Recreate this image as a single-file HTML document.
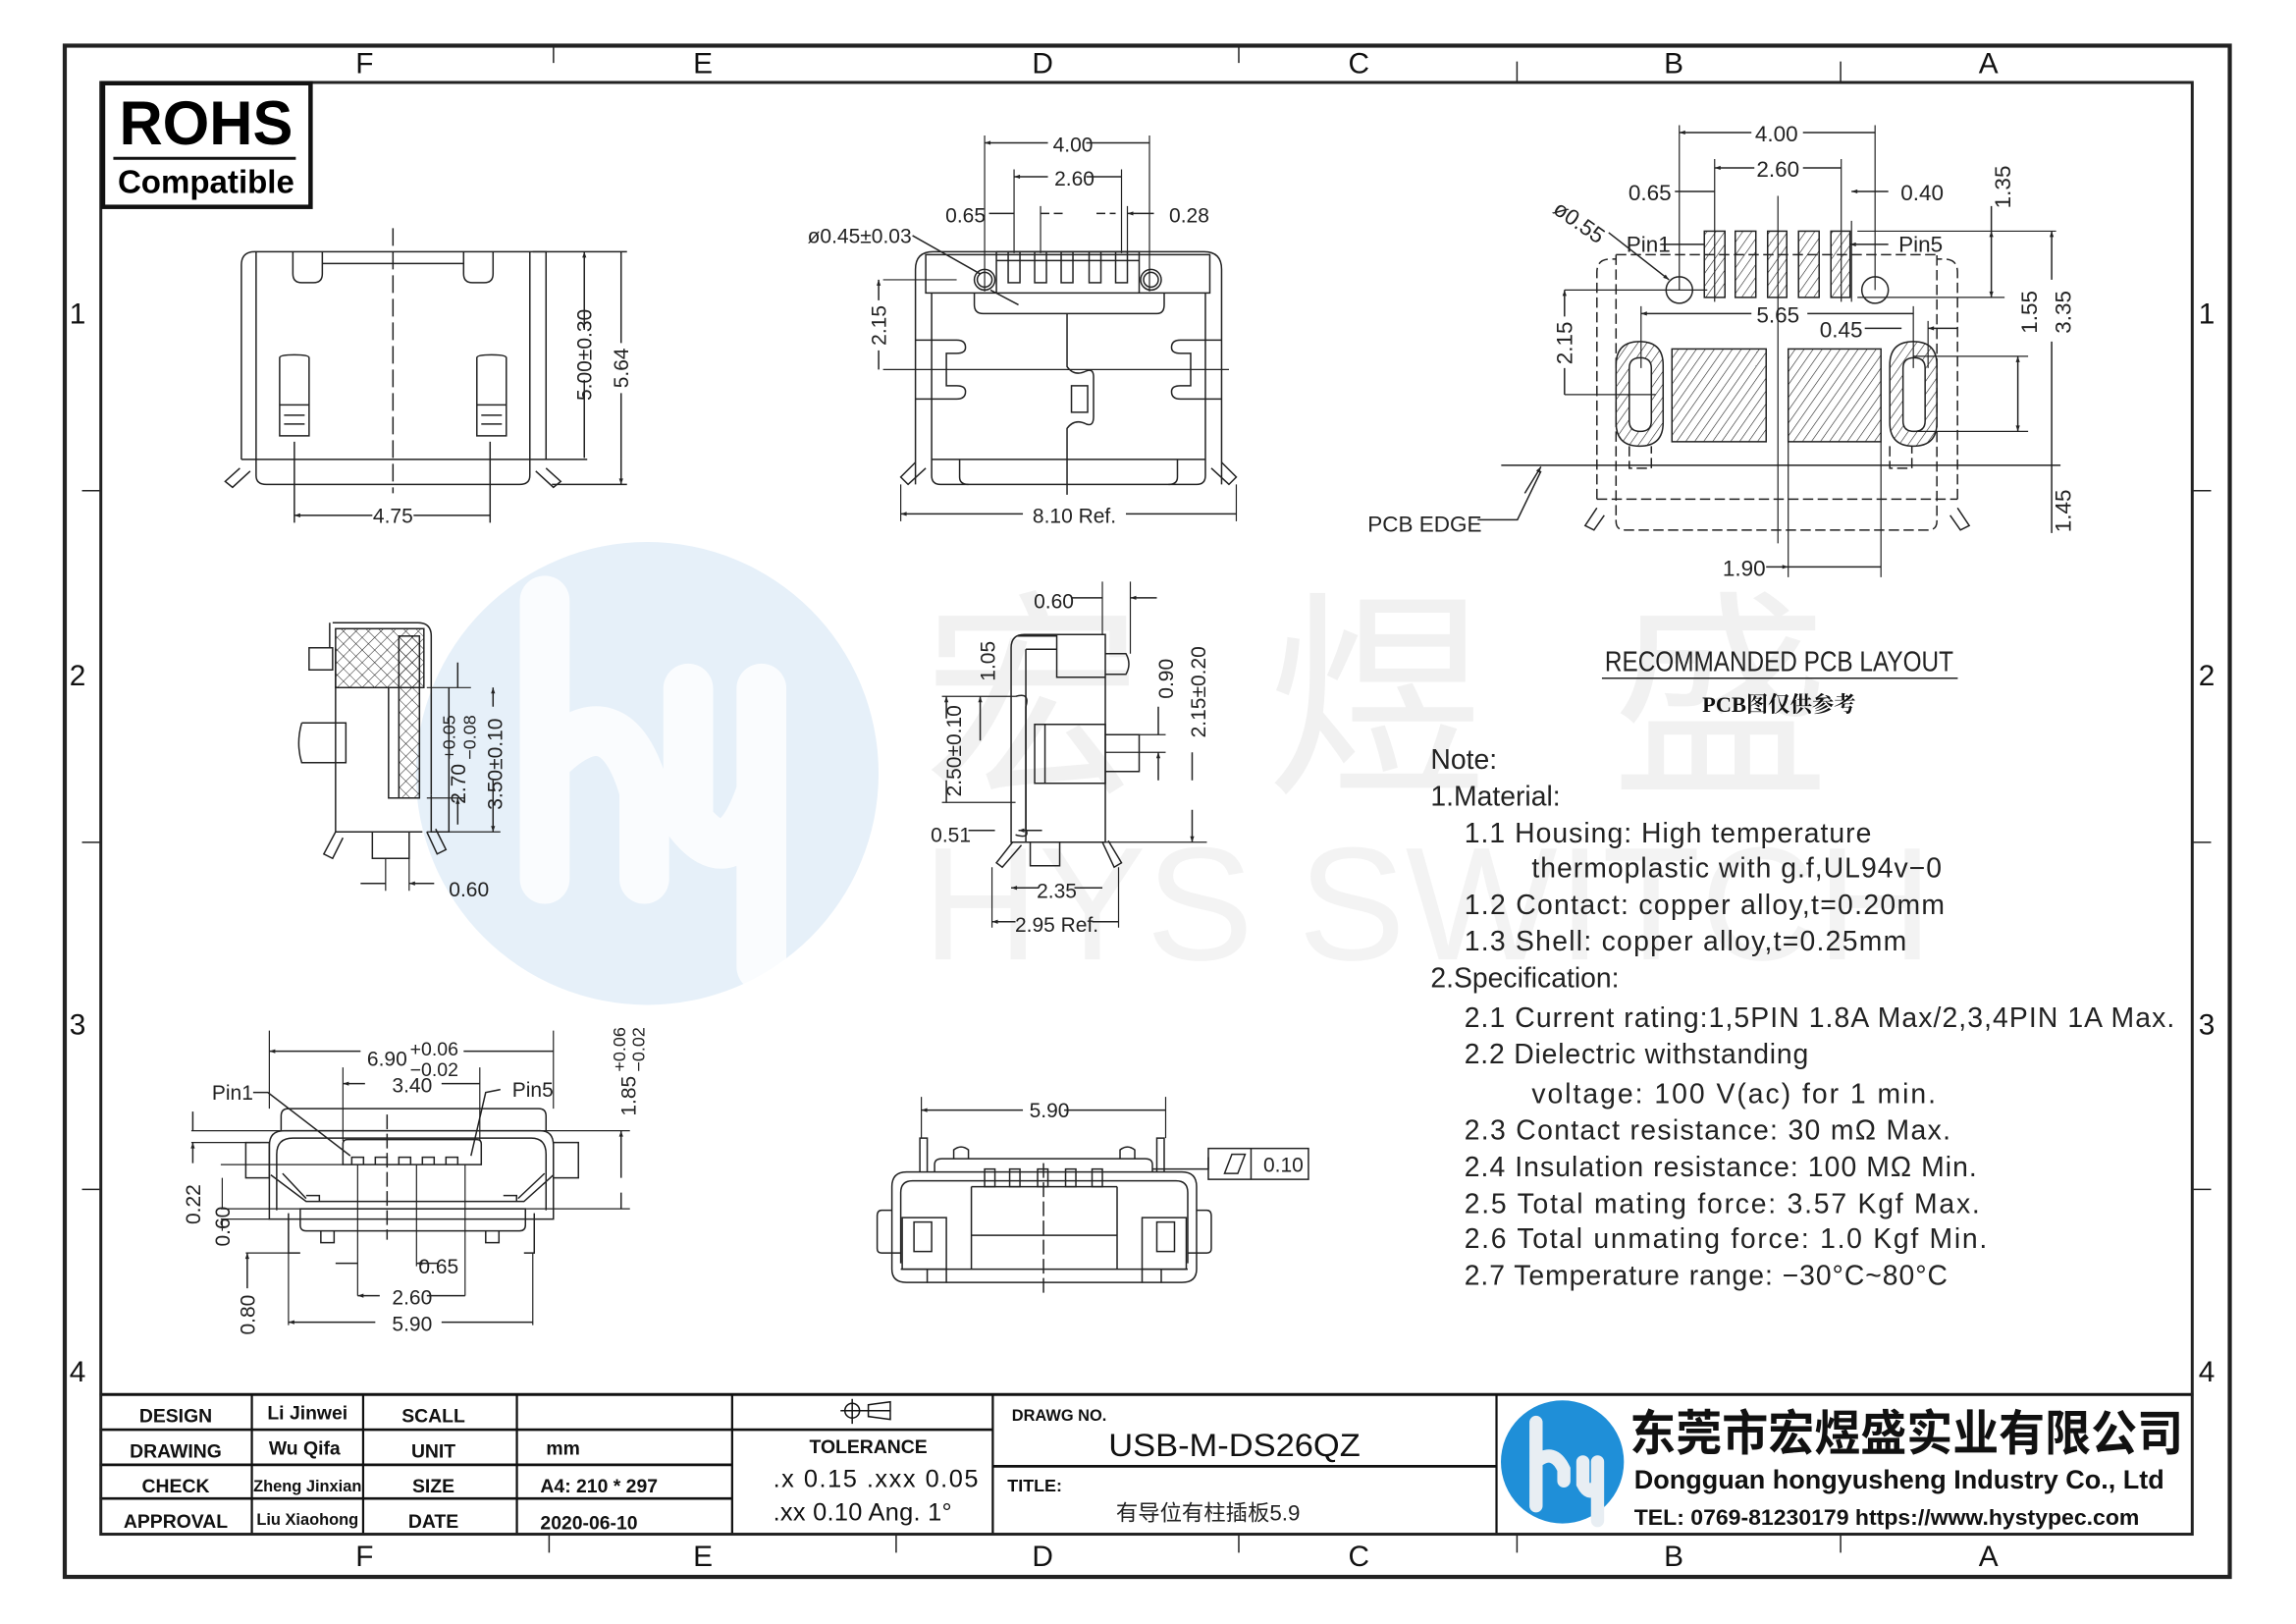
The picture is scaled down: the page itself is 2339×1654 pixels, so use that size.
<!DOCTYPE html>
<html><head><meta charset="utf-8"><style>html,body{margin:0;padding:0;background:#fff}svg{display:block}</style></head>
<body>
<svg xmlns="http://www.w3.org/2000/svg" width="2339" height="1654" viewBox="0 0 1560 1103" preserveAspectRatio="none" font-family="'Liberation Sans','Noto Sans CJK SC',sans-serif">
<defs>
<marker id="a" viewBox="0 0 10 10" refX="10" refY="5" markerWidth="10" markerHeight="4" markerUnits="userSpaceOnUse" orient="auto-start-reverse"><path d="M0,1.5 L10,5 L0,8.5z" fill="#222"/></marker>
<pattern id="h" width="5" height="5" patternUnits="userSpaceOnUse" patternTransform="rotate(35)"><line x1="0" y1="0" x2="0" y2="5" stroke="#222" stroke-width="0.8"/></pattern>
<pattern id="x" width="6" height="6" patternUnits="userSpaceOnUse" patternTransform="rotate(45)"><path d="M0,0V6M0,0H6" stroke="#222" stroke-width="0.7" fill="none"/></pattern>
</defs>
<rect width="1560" height="1103" fill="#fff"/>
<g transform="scale(0.9949)">
<circle cx="442" cy="528" r="158" fill="#e6f0f9"/>
<path d="M372,410 V600 M372,520 Q420,470 440,540 V600 M470,470 V560 Q500,600 520,540 V470 M520,540 V660" stroke="#fff" stroke-width="34" fill="none" stroke-linecap="round" opacity="0.8"/>
<text x="630" y="530" font-size="150" fill="#f1f1f1" font-family="'Noto Sans CJK SC',sans-serif" textLength="620">宏煜盛</text>
<text x="630" y="655" font-size="110" fill="#f3f3f3" textLength="690">HYS SWITCH</text>
<g fill="none" stroke="#222">
<path d="M378,31V43 M846,31V43 M1036,42V56 M1257,42V56 M375,1048V1060 M612,1048V1060 M846,1048V1060 M1036,1048V1060 M1257,1048V1060 M56,335H68 M56,575H68 M56,812H68 M1498,335H1510 M1498,575H1510 M1498,812H1510" stroke-width="1"/>
</g>
<g font-size="20" fill="#111" text-anchor="middle">
<text x="249" y="50">F</text><text x="480" y="50">E</text><text x="712" y="50">D</text><text x="928" y="50">C</text><text x="1143" y="50">B</text><text x="1358" y="50">A</text>
<text x="249" y="1069">F</text><text x="480" y="1069">E</text><text x="712" y="1069">D</text><text x="928" y="1069">C</text><text x="1143" y="1069">B</text><text x="1358" y="1069">A</text>
<text x="53" y="221">1</text><text x="53" y="468">2</text><text x="53" y="706">3</text><text x="53" y="943">4</text>
<text x="1507" y="221">1</text><text x="1507" y="468">2</text><text x="1507" y="706">3</text><text x="1507" y="943">4</text>
</g>
<text x="1215" y="458" font-size="19" fill="#222" text-anchor="middle" textLength="238" lengthAdjust="spacingAndGlyphs">RECOMMANDED PCB LAYOUT</text>
<line x1="1094" y1="463" x2="1337" y2="463" stroke="#222" stroke-width="1"/>
<text x="1215" y="486" font-size="15" font-weight="bold" fill="#111" text-anchor="middle" font-family="'Liberation Serif','Noto Serif CJK SC',serif">PCB图仅供参考</text>
<g font-size="19" fill="#222">
<text x="977" y="525">Note:</text>
<text x="977" y="550">1.Material:</text>
<text x="1000" y="575" textLength="278" lengthAdjust="spacing">1.1  Housing:  High  temperature</text>
<text x="1046" y="599" textLength="280" lengthAdjust="spacing">thermoplastic  with  g.f,UL94v−0</text>
<text x="1000" y="624" textLength="328" lengthAdjust="spacing">1.2  Contact:  copper  alloy,t=0.20mm</text>
<text x="1000" y="649" textLength="302" lengthAdjust="spacing">1.3  Shell:  copper  alloy,t=0.25mm</text>
<text x="977" y="674">2.Specification:</text>
<text x="1000" y="701" textLength="485" lengthAdjust="spacing">2.1  Current  rating:1,5PIN  1.8A  Max/2,3,4PIN  1A  Max.</text>
<text x="1000" y="726" textLength="235" lengthAdjust="spacing">2.2  Dielectric  withstanding</text>
<text x="1046" y="753" textLength="276" lengthAdjust="spacing">voltage:  100  V(ac)  for  1  min.</text>
<text x="1000" y="778" textLength="332" lengthAdjust="spacing">2.3  Contact  resistance:  30  mΩ  Max.</text>
<text x="1000" y="803" textLength="350" lengthAdjust="spacing">2.4  Insulation  resistance:  100  MΩ  Min.</text>
<text x="1000" y="828" textLength="352" lengthAdjust="spacing">2.5  Total  mating  force:  3.57  Kgf  Max.</text>
<text x="1000" y="852" textLength="357" lengthAdjust="spacing">2.6  Total  unmating  force:  1.0  Kgf  Min.</text>
<text x="1000" y="877" textLength="330" lengthAdjust="spacing">2.7  Temperature  range:  −30°C~80°C</text>
</g>
<g fill="none" stroke="#111">
<line x1="68" y1="952" x2="1498" y2="952" stroke-width="2"/>
<path d="M68,976 H500 M68,1000 H500 M68,1023 H500 M500,976 H678 M678,1001 H1022" stroke-width="1.8"/>
<path d="M172,952 V1048 M248,952 V1048 M353,952 V1048 M500,952 V1048 M678,952 V1048 M1022,952 V1048" stroke-width="1.5"/>
</g>
<g font-size="13" font-weight="bold" fill="#111" text-anchor="middle">
<text x="120" y="971">DESIGN</text><text x="120" y="995">DRAWING</text><text x="120" y="1019">CHECK</text><text x="120" y="1043">APPROVAL</text>
<text x="210" y="969">Li Jinwei</text><text x="208" y="993">Wu Qifa</text><text x="210" y="1018" font-size="11">Zheng Jinxian</text><text x="210" y="1041" font-size="11">Liu Xiaohong</text>
<text x="296" y="971">SCALL</text><text x="296" y="995">UNIT</text><text x="296" y="1019">SIZE</text><text x="296" y="1043">DATE</text>
</g>
<g font-size="13" font-weight="bold" fill="#111">
<text x="373" y="993">mm</text><text x="369" y="1019">A4: 210 * 297</text><text x="369" y="1044">2020-06-10</text>
<text x="593" y="992" text-anchor="middle">TOLERANCE</text>
<text x="691" y="970" font-size="11">DRAWG NO.</text>
<text x="688" y="1018" font-size="12">TITLE:</text>
</g>
<g fill="none" stroke="#111" stroke-width="1"><circle cx="582" cy="963" r="5"/><path d="M574,963 H608 M582,955 V972 M593,959 L608,957 V969 L593,967 Z"/></g>
<g font-size="17" fill="#111">
<text x="528" y="1015" textLength="140" lengthAdjust="spacing">.x  0.15  .xxx  0.05</text>
<text x="528" y="1038" textLength="122" lengthAdjust="spacing">.xx 0.10  Ang.  1°</text>
</g>
<text x="843" y="994" font-size="22" fill="#111" text-anchor="middle" textLength="172" lengthAdjust="spacingAndGlyphs">USB-M-DS26QZ</text>
<text x="825" y="1038" font-size="15" fill="#222" text-anchor="middle">有导位有柱插板5.9</text>
<circle cx="1067" cy="998" r="42" fill="#1f8fd8"/>
<path d="M1049,971 V1028 M1049,998 Q1061,988 1068,1003 V1011 M1081,998 V1013 Q1086,1023 1091,1013 V998 M1091,1013 V1038" stroke="#e8eef3" stroke-width="9" fill="none" stroke-linecap="round"/>
<text x="1113" y="990" font-size="33" font-weight="bold" fill="#111" font-family="'Noto Sans CJK SC',sans-serif" textLength="378" lengthAdjust="spacingAndGlyphs">东莞市宏煜盛实业有限公司</text>
<text x="1116" y="1016" font-size="18" font-weight="bold" fill="#111" textLength="362" lengthAdjust="spacingAndGlyphs">Dongguan hongyusheng Industry Co., Ltd</text>
<text x="1116" y="1041" font-size="15" font-weight="bold" fill="#111" textLength="345" lengthAdjust="spacingAndGlyphs">TEL: 0769-81230179   https://www.hystypec.com</text>
</g>

<g fill="none" stroke="#222">
<rect x="44" y="31" width="1471" height="1040" stroke-width="2.8"/>
<rect x="68.5" y="56" width="1421" height="986" stroke-width="2"/>
</g>
<rect x="70" y="56.5" width="141" height="84" fill="none" stroke="#111" stroke-width="3"/>
<text x="140" y="98" font-size="42" font-weight="bold" text-anchor="middle" textLength="118" lengthAdjust="spacingAndGlyphs">ROHS</text>
<line x1="77" y1="107.5" x2="201" y2="107.5" stroke="#111" stroke-width="2"/>
<text x="140" y="131" font-size="22" font-weight="bold" text-anchor="middle" textLength="120" lengthAdjust="spacingAndGlyphs">Compatible</text>

<g fill="none" stroke="#222" stroke-width="1">
<path d="M164,312 V180 Q164,171 173,171 H371 V312" />
<path d="M174,171 V323 Q174,329 181,329 H353 Q360,329 360,323 V171"/>
<path d="M199,171 V186 Q199,192 205,192 H213 Q219,192 219,186 V179 H315 V186 Q315,192 321,192 H329 Q335,192 335,186 V171 M219,179 V171 M315,179 V171"/>
<path d="M190,243 V296 H210 V243 Q210,241 200,241 Q190,241 190,243 M190,275 H210 M193,282 H207 M193,288 H207 M324,243 V296 H344 V243 Q344,241 334,241 Q324,241 324,243 M324,275 H344 M327,282 H341 M327,288 H341"/>
<path d="M164,312 H399 M163,318 L153,327 L158,331 L170,320 M371,318 L381,327 L376,331 L364,320"/>
<path d="M267,155 V335" stroke-dasharray="12,4"/>
<path d="M200,300 V355 M333,300 V355 M362,171 H426 M375,329 H426"/>
<path d="M397,171 V224 M397,258 V311 M422,171 V233 M422,267 V329" marker-start="url(#a)" marker-end="url(#a)"/>
<path d="M200,350 H253 M281,350 H333" marker-start="url(#a)"/>
</g>
<g font-size="14" fill="#222" text-anchor="middle">
<text x="267" y="355">4.75</text>
<text transform="translate(402,241) rotate(-90)">5.00±0.30</text>
<text transform="translate(427,250) rotate(-90)">5.64</text>
</g>

<g fill="none" stroke="#222" stroke-width="1">
<path d="M622,329 V183 Q622,171 634,171 H818 Q830,171 830,183 V329"/>
<path d="M629,173 H822 V199 H629 Z M633,199 V323 Q633,329 639,329 H813 Q819,329 819,323 V199"/>
<path d="M677,171 H774 V199 M677,171 V199 M677,177 H774"/>
<path d="M662,199 V207 Q662,213 668,213 H786 Q791,213 791,207 V199"/>
<rect x="685" y="171" width="8" height="21"/><rect x="703" y="171" width="8" height="21"/><rect x="721" y="171" width="8" height="21"/><rect x="740" y="171" width="8" height="21"/><rect x="758" y="171" width="8" height="21"/>
<circle cx="669" cy="190" r="7"/><circle cx="669" cy="190" r="5"/><circle cx="782" cy="190" r="7"/><circle cx="782" cy="190" r="5"/>
<path d="M622,231 H650 Q656,231 656,236 Q656,240 650,240 H643 V262 H650 Q656,262 656,266 Q656,271 650,271 H622 M830,231 H802 Q796,231 796,236 Q796,240 802,240 H809 V262 H802 Q796,262 796,266 Q796,271 802,271 H830"/>
<path d="M725,213 V249 Q730,256 738,252 Q743,250 743,256 V283 Q743,290 738,288 Q730,284 725,291 V336"/>
<rect x="728" y="262" width="11" height="18"/>
<path d="M633,312 H819 M652,312 V324 Q652,329 658,329 M800,312 V324 Q800,329 794,329"/>
<path d="M622,314 L612,324 L617,329 L629,318 M830,314 L840,324 L835,329 L823,318"/>
<path d="M612,329 V354 M840,329 V354 M669,92 V198 M781,92 V198 M689,115 V172 M762,115 V172 M707,140 V172 M766,140 V172 M600,190 H650 M600,251 H835" stroke-width="0.8"/>
<path d="M669,97 H712 M738,97 H781" marker-start="url(#a)"/>
<path d="M689,120 H712 M738,120 H762" marker-start="url(#a)"/>
<path d="M612,349 H695 M765,349 H840" marker-start="url(#a)"/>
<path d="M672,145 H689 M784,145 H766" marker-end="url(#a)"/>
<path d="M707,145 H725 M745,145 H758" stroke-dasharray="6,3"/>
<path d="M597,190 V204 M597,238 V251" marker-start="url(#a)"/>
<path d="M620,160 L666,186 M673,197 L692,207"/>
</g>
<g font-size="14" fill="#222" text-anchor="middle">
<text x="729" y="103">4.00</text><text x="730" y="126">2.60</text>
<text x="656" y="151">0.65</text><text x="808" y="151">0.28</text>
<text x="584" y="165">ø0.45±0.03</text>
<text x="730" y="355">8.10  Ref.</text>
<text transform="translate(602,221) rotate(-90)">2.15</text>
</g>

<g fill="none" stroke="#222" stroke-width="1">
<g stroke="#222" fill="url(#h)"><rect x="1158" y="157" width="14" height="45"/><rect x="1179" y="157" width="14" height="45"/><rect x="1201" y="157" width="13" height="45"/><rect x="1222" y="157" width="14" height="45"/><rect x="1244" y="157" width="13" height="45"/>
<rect x="1136" y="237" width="64" height="63"/><rect x="1215" y="237" width="63" height="63"/>
<path fill-rule="evenodd" d="M1098,248 Q1098,232 1114,232 Q1130,232 1130,248 V287 Q1130,303 1114,303 Q1098,303 1098,287 Z M1107,250 Q1107,243 1114.5,243 Q1122,243 1122,250 V286 Q1122,293 1114.5,293 Q1107,293 1107,286 Z"/>
<path fill-rule="evenodd" d="M1284,248 Q1284,232 1300,232 Q1316,232 1316,248 V287 Q1316,303 1300,303 Q1284,303 1284,287 Z M1293,250 Q1293,243 1300.5,243 Q1308,243 1308,250 V286 Q1308,293 1300.5,293 Q1293,293 1293,286 Z"/></g>
<circle cx="1141" cy="197" r="9"/><circle cx="1274" cy="197" r="9"/>
<path d="M1085,339 V185 Q1085,176 1094,176 H1098 M1330,339 V185 Q1330,176 1321,176 H1316 M1098,173 H1316 M1098,173 V354 Q1098,360 1104,360 H1310 Q1316,360 1316,354 V173 M1085,339 H1330 M1107,303 V318 H1122 V303 M1284,303 V318 H1299 V303" stroke-dasharray="7,3"/>
<path d="M1085,345 L1077,357 L1083,360 L1090,350 M1330,345 L1338,357 L1332,360 L1325,350"/>
<path d="M1020,316 H1400 M1004,353 H1031 L1047,320"/>
<path d="M1036,335 L1047,317" marker-end="url(#a)"/>
<path d="M1208,133 V369 M1063,197 H1160 M1063,268 H1125" stroke-width="0.8"/>
<path d="M1141,85 V197 M1274,85 V197 M1165,108 V205 M1251,108 V205 M1258,150 V205 M1215,300 V392 M1278,300 V392 M1115,208 V250 M1300,208 V250 M1310,218 V250 M1262,157 H1397 M1262,202 H1362 M1300,242 H1378 M1300,293 H1378" stroke-width="0.8"/>
<path d="M1141,90 H1190 M1225,90 H1274" marker-start="url(#a)"/>
<path d="M1165,114 H1192 M1225,114 H1251" marker-start="url(#a)"/>
<path d="M1138,130 H1165 M1283,130 H1258" marker-end="url(#a)"/>
<path d="M1115,213 H1190 M1228,213 H1300" marker-start="url(#a)"/>
<path d="M1267,223 H1292 M1330,223 H1310" marker-end="url(#a)"/>
<path d="M1063,197 V215 M1063,250 V268" marker-start="url(#a)"/>
<path d="M1353,157 V202" marker-start="url(#a)" marker-end="url(#a)"/>
<path d="M1371,242 V293" marker-start="url(#a)" marker-end="url(#a)"/>
<path d="M1394,157 V190 M1394,232 V316" marker-start="url(#a)"/>
<path d="M1215,385 H1278 M1200,385 H1215" marker-end="url(#a)"/>
<path d="M1128,166 H1158 M1283,166 H1257" marker-end="url(#a)"/>
<path d="M1093,158 L1134,190" marker-end="url(#a)"/>
<path d="M1353,140 V157 M1394,316 V362"/>
</g>
<g font-size="15" fill="#222" text-anchor="middle">
<text x="1207" y="96">4.00</text><text x="1208" y="120">2.60</text>
<text x="1121" y="136">0.65</text><text x="1306" y="136">0.40</text>
<text x="1120" y="171">Pin1</text><text x="1305" y="171">Pin5</text>
<text x="1208" y="219">5.65</text><text x="1251" y="229">0.45</text>
<text x="1185" y="391">1.90</text>
<text x="968" y="361">PCB EDGE</text>
<text transform="translate(1070,155) rotate(35)">ø0.55</text>
<text transform="translate(1068,233) rotate(-90)">2.15</text>
<text transform="translate(1366,127) rotate(-90)">1.35</text>
<text transform="translate(1384,212) rotate(-90)">1.55</text>
<text transform="translate(1407,212) rotate(-90)">3.35</text>
<text transform="translate(1407,347) rotate(-90)">1.45</text>
</g>

<g fill="none" stroke="#222" stroke-width="1">
<path d="M226,423 H284 Q293,423 293,432 V540 M224,423 V440 M228,440 V565 H287"/>
<rect x="228" y="427" width="60" height="40" fill="url(#x)"/>
<rect x="271" y="432" width="14" height="110" fill="url(#x)"/>
<path d="M264,467 V542 H283 M253,565 V583 H278 V565 M293,540 V565 H305 V467"/>
<path d="M205,491 H235 V518 H205 Q201,505 205,491 M210,440 H226 V455 H210 Z"/>
<path d="M228,565 L220,580 L226,583 L233,569 M290,565 L297,580 L303,577 L296,563"/>
<path d="M262,583 V605 M278,583 V605 M290,467 H320 M290,542 H316 M290,565 H340" stroke-width="0.8"/>
<path d="M311,450 V467 M311,560 V542" marker-end="url(#a)"/>
<path d="M335,467 V480 M335,530 V565" marker-start="url(#a)" marker-end="url(#a)"/>
<path d="M245,600 H262 M295,600 H278" marker-end="url(#a)"/>
</g>
<g font-size="14" fill="#222">
<text x="305" y="609">0.60</text>
<text transform="translate(316,546) rotate(-90)">2.70</text>
<text transform="translate(309,516) rotate(-90)" font-size="12">+0.05</text>
<text transform="translate(323,516) rotate(-90)" font-size="12">−0.08</text>
<text transform="translate(341,550) rotate(-90)">3.50±0.10</text>
</g>

<g fill="none" stroke="#222" stroke-width="1">
<path d="M687,572 V440 Q687,431 696,431 H751 V572 Z M697,441 V572 M691,432 H718 V441 H697 M718,441 V460 H751 M751,444 H765 Q769,451 765,458 H751"/>
<path d="M703,492 H751 V532 H703 Z M751,499 H774 V524 H751 M710,492 V532"/>
<path d="M687,572 H751 M688,572 L677,586 L681,589 L694,574 M749,572 L757,589 L762,586 L753,571 M700,572 V588 H720 V572"/>
<path d="M690,473 Q700,470 697,480 V563 Q700,570 690,567" />
<path d="M749,395 V431 M768,395 V444 M674,589 V630 M760,589 V630 M640,473 H690 M640,545 H690 M751,499 H792 M751,511 H792 M751,572 H820" stroke-width="0.8"/>
<path d="M728,406 H749 M786,406 H768" marker-end="url(#a)"/>
<path d="M666,473 V488 M666,503 V473" marker-start="url(#a)"/>
<path d="M643,473 V488 M643,530 V545" marker-start="url(#a)"/>
<path d="M787,480 V499 M787,530 V511" marker-end="url(#a)"/>
<path d="M810,511 V530 M810,550 V572" marker-end="url(#a)"/>
<path d="M658,564 H676 M708,564 H692" marker-end="url(#a)"/>
<path d="M687,603 H706 M730,603 H749" marker-start="url(#a)"/>
<path d="M674,626 H690 M760,626 H742" marker-start="url(#a)"/>
</g>
<g font-size="14" fill="#222" text-anchor="middle">
<text x="716" y="413">0.60</text>
<text x="646" y="572">0.51</text>
<text x="718" y="610">2.35</text>
<text x="718" y="633">2.95  Ref.</text>
<text transform="translate(676,449) rotate(-90)">1.05</text>
<text transform="translate(653,510) rotate(-90)">2.50±0.10</text>
<text transform="translate(797,461) rotate(-90)">0.90</text>
<text transform="translate(819,470) rotate(-90)">2.15±0.20</text>
</g>

<g fill="none" stroke="#222" stroke-width="1">
<path d="M191,768 V758 Q191,753 196,753 H366 Q371,753 371,758 V768"/>
<path d="M183,828 V778 Q183,768 193,768 H367 Q376,768 376,778 V828 Z"/>
<path d="M188,822 V784 Q188,773 199,773 H361 Q371,773 371,784 V822"/>
<path d="M167,776 H183 V800 H167 Z M376,776 H393 V800 H376 Z"/>
<path d="M184,798 L208,816 H356 L376,798 M192,797 L208,814 M370,797 L352,814 M208,812 H217 V816 M342,812 H351 V816"/>
<path d="M233,777 Q233,774 236,774 H324 Q327,774 327,777 V791 H233 Z M239,791 V786 H247 V791 M255,791 V786 H263 V791 M271,791 V786 H279 V791 M287,791 V786 H295 V791 M303,791 V786 H311 V791"/>
<path d="M204,821 H357 V832 Q357,836 353,836 H208 Q204,836 204,832 Z M196,824 V851 H204 M363,824 V851 H356 M218,836 V844 H227 V836 M330,836 V844 H339 V836"/>
<path d="M263,757 V842" stroke-dasharray="10,3"/>
<path d="M183,700 V753 M376,700 V753 M233,725 V775 M326,725 V775 M130,768 H428 M130,776 H177 M150,791 H233 M150,821 H428 M150,828 H183 M167,851 H196 M243,791 V880 M283,791 V860 M316,791 V880 M196,851 V900 M362,851 V900" stroke-width="0.8"/>
<path d="M183,714 H245 M315,714 H376" marker-start="url(#a)"/>
<path d="M233,736 H248 M300,736 H326" marker-start="url(#a)"/>
<path d="M243,880 H258 M290,880 H316" marker-start="url(#a)"/>
<path d="M196,898 H255 M300,898 H362" marker-start="url(#a)"/>
<path d="M228,858 H243 M298,858 H283" marker-end="url(#a)"/>
<path d="M131,755 V768 M131,790 V776" marker-end="url(#a)"/>
<path d="M151,800 V821 M151,836 V828" stroke-width="0.8"/>
<path d="M168,875 V851" marker-end="url(#a)"/>
<path d="M422,768 V800 M422,810 V821" marker-start="url(#a)"/>
<path d="M172,742 H182 L238,785 M340,740 L330,742 L320,785"/>
</g>
<g font-size="14" fill="#222" text-anchor="middle">
<text x="158" y="747">Pin1</text><text x="362" y="745">Pin5</text>
<text x="263" y="724">6.90</text><text x="295" y="717" font-size="13">+0.06</text><text x="295" y="731" font-size="13">−0.02</text>
<text x="280" y="742">3.40</text>
<text x="298" y="865">0.65</text><text x="280" y="886">2.60</text><text x="280" y="904">5.90</text>
<text transform="translate(136,818) rotate(-90)">0.22</text>
<text transform="translate(156,833) rotate(-90)">0.60</text>
<text transform="translate(173,893) rotate(-90)">0.80</text>
</g>
<g font-size="14" fill="#222">
<text transform="translate(432,758) rotate(-90)">1.85</text>
<text transform="translate(425,728) rotate(-90)" font-size="12">+0.06</text>
<text transform="translate(438,728) rotate(-90)" font-size="12">−0.02</text>
</g>

<g fill="none" stroke="#222" stroke-width="1">
<path d="M606,862 V806 Q606,796 616,796 H803 Q813,796 813,806 V862 Q813,871 803,871 H616 Q606,871 606,862 Z"/>
<path d="M612,858 V810 Q612,802 620,802 H799 Q807,802 807,810 V858"/>
<path d="M635,796 V791 Q635,787 640,787 H778 Q783,787 783,791 V796"/>
<path d="M625,796 V773 H630 V796 M786,796 V773 H791 V796 M648,787 V781 Q653,777 658,781 V787 M761,787 V781 Q766,777 771,781 V787"/>
<rect x="669" y="794" width="7" height="12"/><rect x="686" y="794" width="7" height="12"/><rect x="705" y="794" width="7" height="12"/><rect x="724" y="794" width="7" height="12"/><rect x="742" y="794" width="7" height="12"/>
<path d="M660,806 H759 M660,806 V862 M759,806 V862 M660,839 H759"/>
<path d="M606,822 H599 Q596,822 596,826 V848 Q596,851 599,851 H612 M813,822 H820 Q823,822 823,826 V848 Q823,851 820,851 H807"/>
<rect x="613" y="827" width="30" height="35"/><rect x="776" y="827" width="30" height="35"/>
<rect x="621" y="830" width="12" height="20"/><rect x="786" y="830" width="12" height="20"/>
<path d="M612,862 H807 M630,862 V871 M643,862 V871 M776,862 V871 M789,862 V871"/>
<path d="M709,790 V880" stroke-dasharray="10,3"/>
<path d="M626,745 V773 M792,745 V773" stroke-width="0.8"/>
<path d="M626,754 H695 M723,754 H792" marker-start="url(#a)"/>
<path d="M783,794 H821 V786"/>
<rect x="821" y="780" width="68" height="21"/><line x1="850" y1="780" x2="850" y2="801"/>
<path d="M832,797 L837,784 H846 L841,797 Z"/>
</g>
<g font-size="14" fill="#222" text-anchor="middle">
<text x="713" y="759">5.90</text><text x="872" y="796">0.10</text>
</g>
</svg>
</body></html>
